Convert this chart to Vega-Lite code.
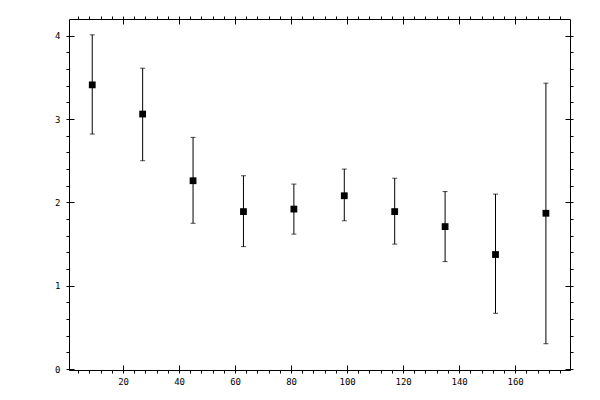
{
  "$schema": "https://vega.github.io/schema/vega-lite/v6.json",
  "width": 501,
  "height": 351,
  "autosize": "none",
  "padding": {"left": 69, "top": 19, "right": 30, "bottom": 30},
  "background": "white",
  "config": {
    "view": {"stroke": null},
    "axis": {
      "title": null,
      "grid": false,
      "labelFont": "DejaVu Sans Mono",
      "labelFontSize": 9,
      "labelColor": "black",
      "tickColor": "black",
      "tickWidth": 1,
      "domainColor": "black",
      "domainWidth": 1
    }
  },
  "data": {
    "values": [
      {"x": 9, "y": 3.41, "lo": 2.82, "hi": 4.01},
      {"x": 27, "y": 3.06, "lo": 2.50, "hi": 3.61},
      {"x": 45, "y": 2.26, "lo": 1.75, "hi": 2.78},
      {"x": 63, "y": 1.89, "lo": 1.47, "hi": 2.32},
      {"x": 81, "y": 1.92, "lo": 1.62, "hi": 2.22},
      {"x": 99, "y": 2.08, "lo": 1.78, "hi": 2.40},
      {"x": 117, "y": 1.89, "lo": 1.50, "hi": 2.29},
      {"x": 135, "y": 1.71, "lo": 1.29, "hi": 2.13},
      {"x": 153, "y": 1.375, "lo": 0.67, "hi": 2.10},
      {"x": 171, "y": 1.87, "lo": 0.305, "hi": 3.43}
    ]
  },
  "resolve": {"axis": {"x": "independent", "y": "independent"}},
  "layer": [
    {
      "mark": {"type": "errorbar", "ticks": {"size": 5, "color": "black"}, "rule": {"color": "black", "strokeWidth": 1}},
      "encoding": {
        "x": {
          "field": "x", "type": "quantitative", "title": null,
          "scale": {"domain": [0.7, 179.6], "nice": false, "zero": false},
          "axis": {
            "orient": "bottom",
            "title": null,
            "values": [4, 8, 12, 16, 20, 24, 28, 32, 36, 40, 44, 48, 52, 56, 60, 64, 68, 72, 76, 80, 84, 88, 92, 96, 100, 104, 108, 112, 116, 120, 124, 128, 132, 136, 140, 144, 148, 152, 156, 160, 164, 168, 172, 176],
            "labelExpr": "datum.value % 20 === 0 ? datum.label : ''",
            "tickSize": 3,
            "labelPadding": 4,
            "labelOverlap": false
          }
        },
        "y": {
          "field": "lo", "type": "quantitative", "title": null,
          "scale": {"domain": [-0.01, 4.2], "nice": false, "zero": false},
          "axis": {
            "orient": "left",
            "title": null,
            "values": [0, 0.2, 0.4, 0.6, 0.8, 1, 1.2, 1.4, 1.6, 1.8, 2, 2.2, 2.4, 2.6, 2.8, 3, 3.2, 3.4, 3.6, 3.8, 4],
            "labelExpr": "abs(datum.value - round(datum.value)) < 0.001 ? format(datum.value, 'd') : ''",
            "tickSize": 3,
            "labelPadding": 6,
            "labelOverlap": false
          }
        },
        "y2": {"field": "hi"}
      }
    },
    {
      "mark": {"type": "point", "shape": "square", "filled": true, "size": 46, "color": "black", "opacity": 1},
      "encoding": {
        "x": {
          "field": "x", "type": "quantitative",
          "scale": {"domain": [0.7, 179.6], "nice": false, "zero": false},
          "axis": {"orient": "bottom", "values": [20, 40, 60, 80, 100, 120, 140, 160], "tickSize": -5, "labels": false, "domain": false}
        },
        "y": {
          "field": "y", "type": "quantitative",
          "scale": {"domain": [-0.01, 4.2], "nice": false, "zero": false},
          "axis": {"orient": "left", "values": [0, 1, 2, 3, 4], "tickSize": -5, "labels": false, "domain": false}
        }
      }
    },
    {
      "mark": {"type": "point", "opacity": 0},
      "encoding": {
        "x": {
          "field": "x", "type": "quantitative",
          "scale": {"domain": [0.7, 179.6], "nice": false, "zero": false},
          "axis": {
            "orient": "top",
            "values": [4, 8, 12, 16, 20, 24, 28, 32, 36, 40, 44, 48, 52, 56, 60, 64, 68, 72, 76, 80, 84, 88, 92, 96, 100, 104, 108, 112, 116, 120, 124, 128, 132, 136, 140, 144, 148, 152, 156, 160, 164, 168, 172, 176],
            "tickSize": 3, "labels": false
          }
        },
        "y": {
          "field": "y", "type": "quantitative",
          "scale": {"domain": [-0.01, 4.2], "nice": false, "zero": false},
          "axis": {
            "orient": "right",
            "values": [0, 0.2, 0.4, 0.6, 0.8, 1, 1.2, 1.4, 1.6, 1.8, 2, 2.2, 2.4, 2.6, 2.8, 3, 3.2, 3.4, 3.6, 3.8, 4],
            "tickSize": 3, "labels": false
          }
        }
      }
    },
    {
      "mark": {"type": "point", "opacity": 0},
      "encoding": {
        "x": {
          "field": "x", "type": "quantitative",
          "scale": {"domain": [0.7, 179.6], "nice": false, "zero": false},
          "axis": {"orient": "top", "values": [20, 40, 60, 80, 100, 120, 140, 160], "tickSize": -5, "labels": false, "domain": false}
        },
        "y": {
          "field": "y", "type": "quantitative",
          "scale": {"domain": [-0.01, 4.2], "nice": false, "zero": false},
          "axis": {"orient": "right", "values": [0, 1, 2, 3, 4], "tickSize": -5, "labels": false, "domain": false}
        }
      }
    }
  ]
}
